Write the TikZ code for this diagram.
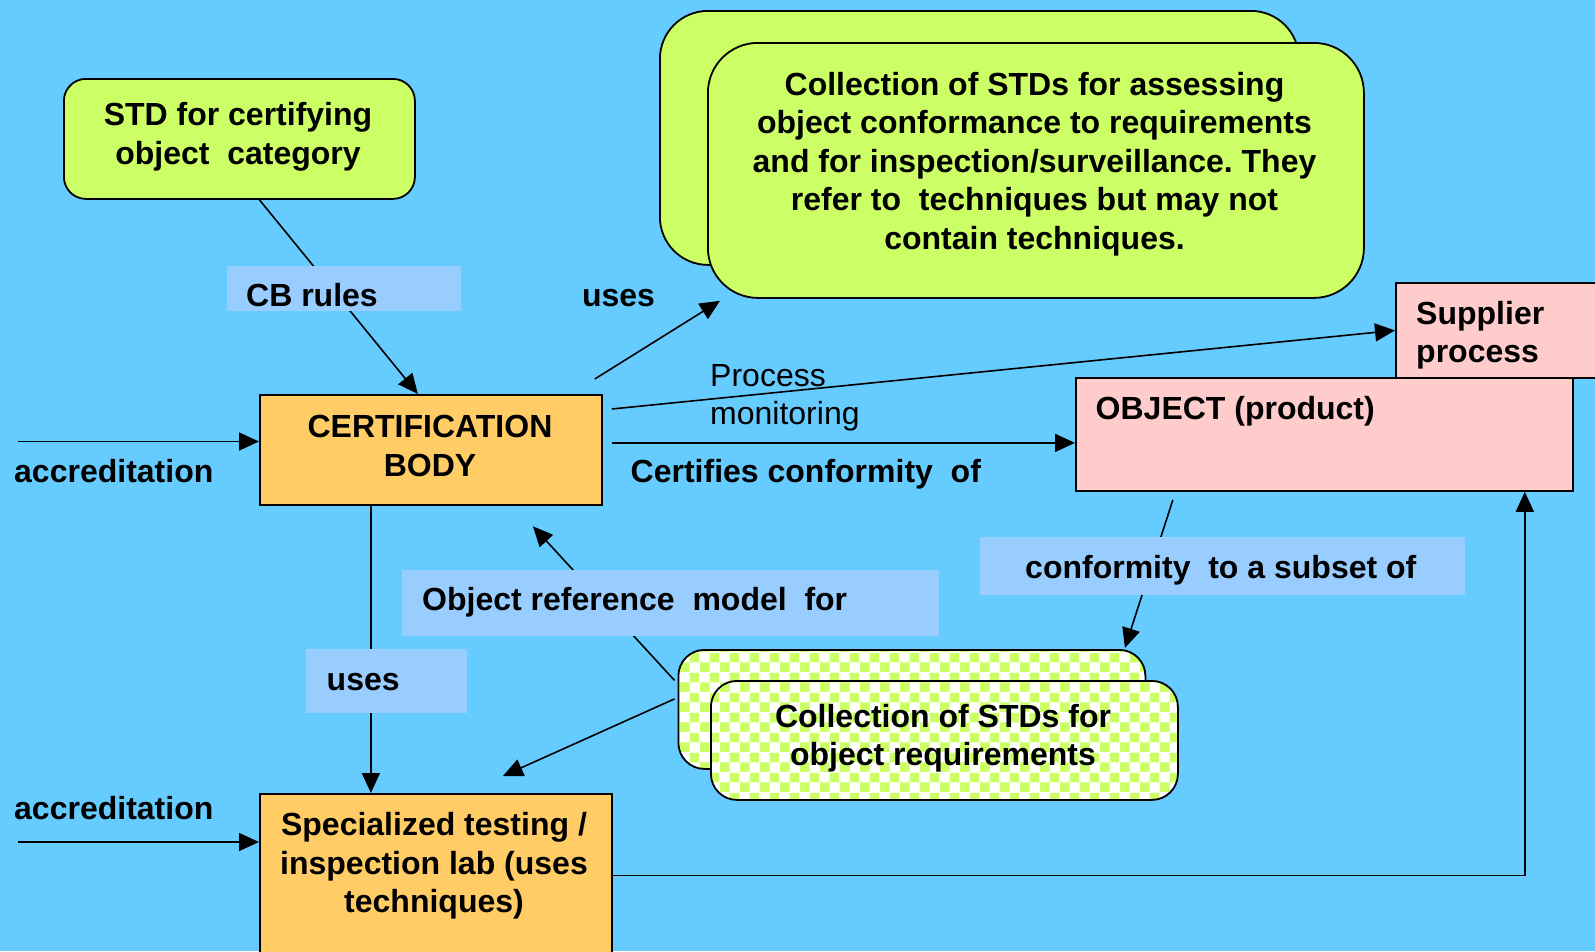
\documentclass[tikz,border=0pt]{standalone}
\usepackage{fontspec}
\setmainfont{Liberation Sans}
\usetikzlibrary{arrows.meta,patterns,calc}
\frenchspacing

\definecolor{bgblue}{HTML}{66CCFF}
\definecolor{lblue}{HTML}{99CCFF}
\definecolor{lime}{HTML}{CCFF66}
\definecolor{peach}{HTML}{FFCC66}
\definecolor{rose}{HTML}{FFCCCC}

% green/white checkerboard used for the requirement collections
\pgfdeclarepatternformonly{chk}{\pgfpointorigin}{\pgfpoint{20pt}{20pt}}{\pgfpoint{20pt}{20pt}}{%
  \pgfpathrectangle{\pgfpointorigin}{\pgfpoint{10pt}{10pt}}%
  \pgfpathrectangle{\pgfpoint{10pt}{10pt}}{\pgfpoint{10pt}{10pt}}%
  \pgfusepath{fill}}

\tikzset{
  box/.style={draw=black, line width=1.8pt, inner sep=0pt, anchor=north west},
  greenbox/.style={box, fill=lime},
  chkbox/.style={box, preaction={fill=white}, pattern=chk, pattern color=lime, rounded corners=26pt},
  lbl/.style={fill=lblue, inner sep=0pt, anchor=north west},
  txt/.style={font=\fontsize{32}{38.5}\selectfont\bfseries, inner sep=0pt, align=center},
  ltxt/.style={txt, align=left, anchor=west},
  ntxt/.style={font=\fontsize{32}{38.5}\selectfont, inner sep=0pt, align=left, anchor=west},
  arr/.style={line width=1.6pt, -{Triangle[length=20pt,width=18pt]}},
}

\begin{document}
\begin{tikzpicture}[x=1pt,y=-1pt]
\fill[bgblue] (0,0) rectangle (1595,951);
\useasboundingbox (0,0) rectangle (1595,951);

% ---- boxes ----
\node[greenbox, rounded corners=22pt, minimum width=351pt, minimum height=120pt] (std) at (63,78) {};
\node[greenbox, rounded corners=48pt, minimum width=639pt, minimum height=254pt] (coll2) at (659,10) {};
\node[greenbox, rounded corners=50pt, minimum width=656pt, minimum height=255pt] (coll) at (707,42) {};
\node[box, fill=rose, minimum width=215pt, minimum height=95pt] (sup) at (1395,282) {};
\node[box, fill=rose, minimum width=497pt, minimum height=113pt] (obj) at (1075,377) {};
\node[box, fill=peach, minimum width=342pt, minimum height=110pt] (cb) at (259,394) {};
\node[box, fill=peach, minimum width=352pt, minimum height=175pt] (lab) at (259,793) {};
\node[chkbox, minimum width=467pt, minimum height=119pt] (chk2) at (677.5,649) {};
\node[chkbox, minimum width=467pt, minimum height=119pt] (chk) at (710,680) {};

% ---- texts inside boxes ----
\node[txt] at (238,137) {STD for certifying\\object\ \ category};
\node[txt] at (1034.5,164) {Collection of STDs for assessing\\object conformance to requirements\\and for inspection/surveillance. They\\refer to\ \ techniques but may not\\contain techniques.};
\node[ltxt] at (1416,335) {Supplier\\process};
\node[ltxt] at (1095.5,411) {OBJECT (product)};
\node[txt] at (430,446) {CERTIFICATION\\BODY};
\node[txt] at (434,866) {Specialized testing /\\inspection lab (uses\\techniques)};
\node[txt] at (943,738) {Collection of STDs for\\object requirements};

% ---- connectors ----
\draw[arr] ([xshift=20pt]std.south) -- ([xshift=-13pt]cb.north);
\draw[arr] ([xshift=-8pt,yshift=15pt]cb.north east) -- ([xshift=13pt,yshift=-2pt]coll.south west);
\draw[arr] ([xshift=9pt,yshift=-15pt]cb.north east) -- (sup.west);
\draw[arr] ([xshift=9pt,yshift=7pt]cb.east) coordinate (c1) -- (c1 -| obj.west);
\coordinate (acc1) at (18,441.5);
\draw[arr] (acc1) -- (acc1 -| cb.west);
\coordinate (acc2) at (18,842);
\draw[arr] (acc2) -- (acc2 -| lab.west);
\draw[arr] ([xshift=-60pt]cb.south) coordinate (v1) -- (v1 |- lab.north);
\draw[arr] ([xshift=-3pt,yshift=29pt]chk2.west) -- ([xshift=102pt,yshift=-20.5pt]cb.south);
\draw[arr] ([xshift=-3pt,yshift=10.5pt]chk2.west) -- ([xshift=67pt,yshift=17pt]lab.north);
\draw[arr] ([xshift=-151.5pt,yshift=-8pt]obj.south) -- ([xshift=213pt,yshift=1pt]chk2.north);
\draw[arr] ([yshift=6pt]lab.east) -| ([xshift=-49pt]obj.south east);

% ---- connector labels ----
\node[lbl, minimum width=234pt, minimum height=45.5pt] (lcb) at (227,265.5) {};
\node[ltxt] at (246,295) {CB rules};
\node[txt] at (618.5,298) {uses};
\node[lbl, minimum width=161pt, minimum height=64pt] (luse) at (306,649) {};
\node[ltxt] at (326.5,682.5) {uses};
\node[lbl, minimum width=537pt, minimum height=66pt] (lref) at (402,570) {};
\node[ltxt] at (422,602) {Object reference\ \ model\ \ for};
\node[lbl, minimum width=485pt, minimum height=58pt] (lconf) at (980,537) {};
\node[ltxt] at (1025,570.5) {conformity\ \ to a subset of};
\node[ntxt] at (710,398) {Process\\monitoring};
\node[ltxt] at (630.5,474) {Certifies conformity\ \ of};
\node[ltxt] at (14,471) {accreditation};
\node[ltxt] at (14,808) {accreditation};
\end{tikzpicture}
\end{document}
